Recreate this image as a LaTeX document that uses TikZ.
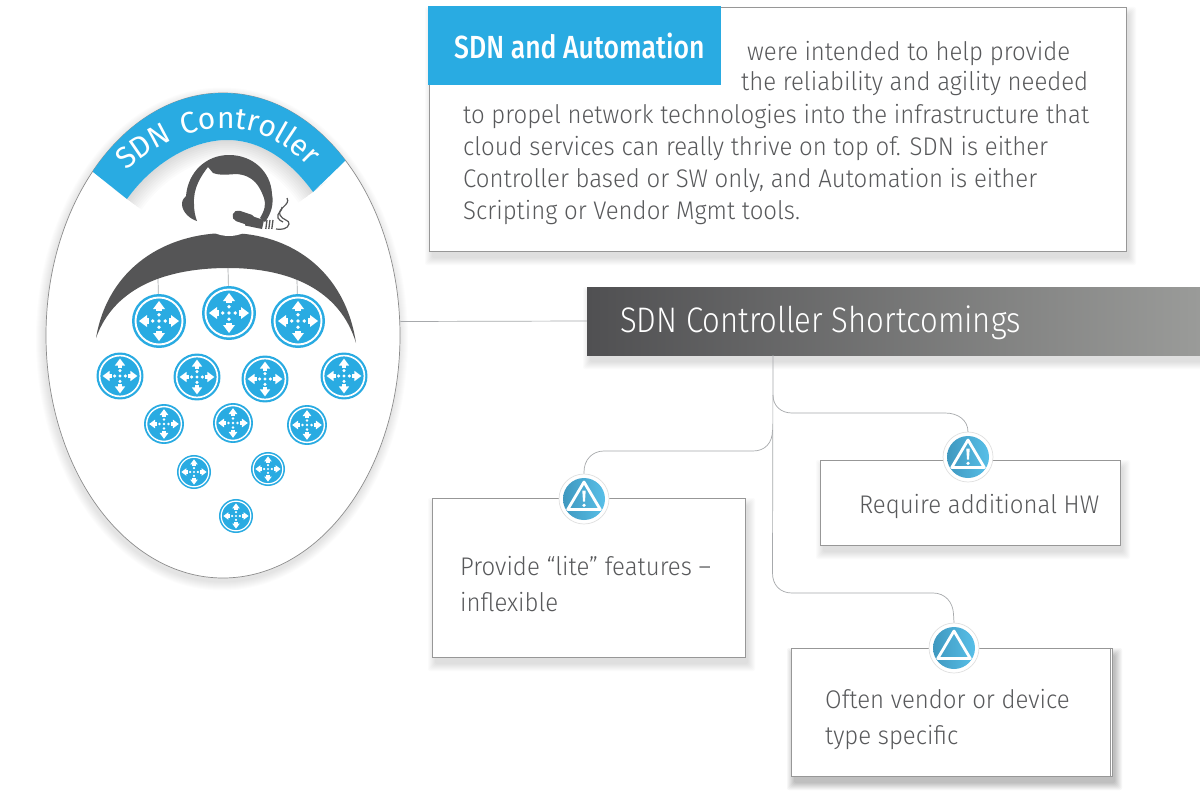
\documentclass[tikz,border=0pt]{standalone}
\usepackage{fontspec}
\setmainfont[FakeStretch=.94]{Fira Sans Light}
\newfontfamily\headfont[FakeStretch=.83]{Fira Sans Medium}
\newfontfamily\barfont[FakeStretch=.875]{Fira Sans Light}
\newfontfamily\banfont[LetterSpace=12]{Fira Sans}
\usetikzlibrary{decorations.text,shapes.geometric}
\definecolor{sdnblue}{HTML}{29ABE2}
\definecolor{sdndark}{HTML}{555556}
\definecolor{sdngrey}{HTML}{58595B}
\definecolor{sdnline}{HTML}{A7A9AC}
\definecolor{sdnedge}{HTML}{979797}
\definecolor{sdnicoA}{HTML}{3F98BF}
\definecolor{sdnicoB}{HTML}{58BFE8}
\tikzset{
  x=1pt,y=-1pt,
  body/.style={anchor=base west,inner sep=0pt,text=sdngrey,font=\fontsize{25.5}{30}\selectfont},
  panel/.style={draw=sdnedge,line width=.8pt,fill=white,inner sep=0pt},
  wire/.style={draw=sdnline,line width=.7pt},
  disc/.style={circle,fill=sdnblue,inner sep=0pt},
  alert/.style={circle,draw=black!12,line width=.7pt,fill=white,minimum size=50pt,inner sep=0pt},
  warnmark/.style={draw=white,line width=2.8pt,line join=round},
}
% soft box shadow
\newcommand\softbox[4]{%
  \foreach \i in {0,1,...,7}{%
    \fill[black,opacity=.015,rounded corners=2pt] (#1+3-\i,#2+7-\i) rectangle (#3+3+\i,#4+7+\i);}}
% router icon
\newcommand\routericon[4]{%
  \pgfmathsetmacro\dd{54*#4}
  \node[disc,minimum size=\dd pt] (#1) at (#2,#3) {};
  \begin{scope}[shift={(#2,#3)},scale=#4]
    \draw[white,line width=1.9*#4 pt] (0,0) circle (23.5);
    \foreach \a in {0,90,180,270}{
      \begin{scope}[rotate=\a]
        \fill[white] (12,-6) -- (20,0) -- (12,6) -- cycle;
        \fill[white] (6.2,0) circle (1.9);
        \fill[white] (12.5,-2.6) rectangle (9.7,2.6);
      \end{scope}}
    \fill[white] (0,0) circle (1.9);
  \end{scope}}
% warning icon
\newcommand\alerticon[3]{%
  \node[alert] (#1) at (#2,#3) {};
  \begin{scope}[shift={(#2,#3)}]
    \shade[left color=sdnicoA,right color=sdnicoB] (0,0) circle (21);
    \draw[warnmark] (0,-17) -- (16.3,10.5) -- (-16.3,10.5) -- cycle;
  \end{scope}}
\begin{document}
\begin{tikzpicture}
\useasboundingbox (0,0) rectangle (1200,800);
\fill[white] (0,0) rectangle (1200,800);

% ---------- oval
\foreach \i in {1,...,9}{\fill[black,opacity=.011] (222,339) ellipse ({177+\i} and {242.5+\i});}
\node[draw=black!45,line width=.7pt,fill=white,ellipse,inner sep=0pt,minimum width=354pt,minimum height=485pt] (oval) at (223,335.5) {};
\begin{scope}
  \clip (223,335.5) ellipse (177 and 242.5);
  \begin{scope}
    \clip (60,120) -- (127,199) .. controls (155,160) and (195,140) .. (227,140) .. controls (260,140) and (290,160) .. (313,192) -- (400,120) -- (400,300) -- (60,300) -- cycle;
    \foreach \w in {4,8,...,36}{
      \draw[black,opacity=.016,line width=\w pt] (127,199) .. controls (155,160) and (195,140) .. (227,140) .. controls (260,140) and (290,160) .. (313,192);}
  \end{scope}
  \fill[sdnblue] (93,172) -- (127,199) .. controls (155,160) and (195,140) .. (227,140) .. controls (260,140) and (290,160) .. (313,192) -- (345,161) -- (345,80) -- (93,80) -- cycle;
\end{scope}
\path[decorate,decoration={text along path,text align=center,
   text={|\banfont\fontsize{30}{31}\selectfont\color{white}|SDN Controller}}]
   (103,196) .. controls (140,150) and (185,128) .. (226,128) .. controls (266,128) and (300,150) .. (330,194);

% ---------- operator
\fill[sdndark] (96,338) .. controls (108,268) and (165,233) .. (228,233) .. controls (290,233) and (345,270) .. (356,343)
  .. controls (340,290) and (290,268) .. (228,268) .. controls (170,268) and (115,285) .. (96,338) -- cycle;
\fill[white] (229,200) circle (36);
\fill[sdndark] (197,221) .. controls (190,219) and (182,212) .. (182,204) .. controls (182,200) and (184,198) .. (186,196)
  .. controls (188,172) and (206,155) .. (229,155) .. controls (253,155) and (271,172) .. (272,194)
  .. controls (274,204) and (271,214) .. (265,222) -- (260,218)
  .. controls (265,210) and (266,204) .. (264,198) .. controls (260,187) and (254,175) .. (236,174)
  .. controls (225,175) and (218,175) .. (213,173) -- (208,167)
  .. controls (201,176) and (193,188) .. (194,204) .. controls (194,210) and (195,216) .. (197,221) -- cycle;
\draw[sdndark,line width=11pt,line cap=round] (238,216) -- (250,220);
\fill[sdndark] (245,214) -- (264,220) -- (262,229) -- (245,225.5) -- cycle;
\foreach \xx in {267,270,273}{\draw[sdndark,line width=1.3pt] (\xx,220) -- (\xx-1.2,229);}
\draw[sdndark,line width=1.2pt] (287,198) .. controls (291,205) and (277,208) .. (280,215) .. controls (282,220) and (290,220) .. (289,224) .. controls (288,229) and (281,230) .. (276,229);
\draw[sdndark,line width=1.2pt] (282,207) .. controls (283,211) and (276,213) .. (278,218) .. controls (279,220) and (281,221) .. (283,222);
\coordinate (hubL) at (158,279);
\coordinate (hubC) at (228,268);
\coordinate (hubR) at (297,280);

% ---------- routers
\routericon{rA}{159}{321}{1}
\routericon{rB}{229}{313}{1}
\routericon{rC}{298}{321}{1}
\routericon{rD}{120}{376}{.87}
\routericon{rE}{197}{377}{.87}
\routericon{rF}{265}{379}{.87}
\routericon{rG}{344}{376}{.87}
\routericon{rH}{164}{424}{.74}
\routericon{rI}{233}{423}{.74}
\routericon{rJ}{307}{425}{.74}
\routericon{rK}{194}{472}{.63}
\routericon{rL}{268}{469}{.63}
\routericon{rM}{236}{516}{.63}
\draw[wire] (hubL) -- (rA);
\draw[wire] (hubC) -- (rB);
\draw[wire] (hubR) -- (rC);

% ---------- top text box
\softbox{429}{7}{1126}{251}
\node[panel,minimum width=697pt,minimum height=244pt] (intro) at (777.5,129) {};
\node[fill=sdnblue,minimum width=293pt,minimum height=79pt,inner sep=0pt] (introtag) at (574.5,45.5) {};
\node[anchor=base west,inner sep=0pt,text=white,font=\headfont\fontsize{32}{34}\selectfont] (tagtext) at (454,59) {SDN and Automation};
\node[body] (l1) at (747,60) {were intended to help provide};
\node[body] (l2) at (741,91) {the reliability and agility needed};
\node[body] (l3) at (463,123) {to propel network technologies into the infrastructure that};
\node[body] (l4) at (463,155) {cloud services can really thrive on top of. SDN is either};
\node[body] (l5) at (463,187) {Controller based or SW only, and Automation is either};
\node[body] (l6) at (463,219) {Scripting or Vendor Mgmt tools.};

% ---------- header bar
\softbox{587}{287}{1200}{355}
\definecolor{barA}{HTML}{505052}
\definecolor{barB}{HTML}{9A9B99}
\node[left color=barA,right color=barB,minimum width=613pt,minimum height=68pt,inner sep=0pt] (bar) at (893.5,321) {};
\node[anchor=base west,inner sep=0pt,text=white,font=\barfont\fontsize{35.5}{38}\selectfont] (bartext) at (620,332) {SDN Controller Shortcomings};
\draw[wire] (oval.east) ++(0,-14) -- (bar.west);

% ---------- lower boxes
\softbox{432}{498}{745}{657}
\node[panel,minimum width=313pt,minimum height=159pt] (boxA) at (588.5,577.5) {};
\softbox{820}{460}{1120}{545}
\node[panel,minimum width=300pt,minimum height=85pt] (boxB) at (970,502.5) {};
\softbox{791}{648}{1112}{776}
\softbox{791}{648}{1112}{776}
\node[panel,minimum width=321pt,minimum height=128pt] (boxC) at (951.5,712) {};
\draw[draw=sdnedge,line width=.7pt] ([xshift=-2.5pt]boxC.north east) -- ([xshift=-2.5pt]boxC.south east);

% ---------- connectors + icons
\alerticon{warnA}{584}{499}
\alerticon{warnB}{968}{457}
\alerticon{warnC}{954}{648}
\begin{scope}[shift={(584,499)}]\fill[white] (-1.7,-8.5) -- (1.7,-8.5) -- (1,2.5) -- (-1,2.5) -- cycle; \fill[white] (0,6.3) circle (1.8);\end{scope}
\begin{scope}[shift={(968,457)}]\fill[white] (-1.7,-8.5) -- (1.7,-8.5) -- (1,2.5) -- (-1,2.5) -- cycle; \fill[white] (0,6.3) circle (1.8);\end{scope}
\coordinate (busTop) at (773,355);
\draw[wire] (busTop) -- (772.5,573) .. controls (772.5,585) and (780,593) .. (792,593) -- (933,593) .. controls (945,593) and (953,602) .. (953.5,614) -- (warnC.north);
\draw[wire] (773,395) .. controls (773,406) and (781,413) .. (792,413) -- (945,413) .. controls (958,413) and (968,420) .. (968,432) -- (warnB.north);
\draw[wire] (772.5,430) .. controls (772.5,443) and (765,451) .. (753,451) -- (604,451) .. controls (592,451) and (584,460) .. (584,472) -- (warnA.north);

\node[body] (a1) at (460,575) {Provide “lite” features –};
\node[body] (a2) at (460,611) {inflexible};
\node[body] (b1) at (859,513) {Require additional HW};
\node[body] (c1) at (825,708) {Often vendor or device};
\node[body] (c2) at (825,744) {type specific};
\end{tikzpicture}
\end{document}
